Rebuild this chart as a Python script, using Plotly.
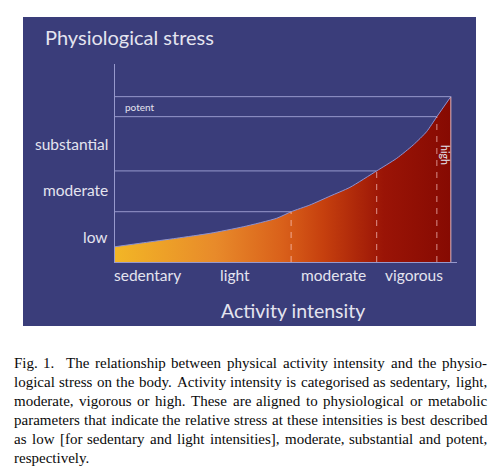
import re
import plotly.graph_objects as go

# ---------------- data ----------------
curve_x = [0, 8.3, 18.0, 27.8, 37.5, 47.3, 51.5, 57.0, 62.9, 68.7, 76.5, 82.4, 87.2, 91.1, 94.1, 98.2]
curve_y = [7.7, 9.7, 12.0, 14.5, 17.8, 22.1, 25.4, 28.8, 33.3, 37.7, 46.0, 52.4, 59.1, 65.8, 73.4, 83.5]
boundary_x = [51.5, 76.5, 94.1, 98.2]
boundary_y = [25.4, 46.0, 73.4, 83.5]
intensity_labels = ["sedentary", "light", "moderate", "vigorous"]
intensity_pos = [9.6, 35, 64, 87.4]
stress_labels = ["low", "moderate", "substantial"]
stress_pos = [12.6, 36.4, 59.6]
caption_lines = [
    "Fig. 1.  The relationship between physical activity intensity and the physio-",
    "logical stress on the body. Activity intensity is categorised as sedentary, light,",
    "moderate, vigorous or high. These are aligned to physiological or metabolic",
    "parameters that indicate the relative stress at these intensities is best described",
    "as low [for sedentary and light intensities], moderate, substantial and potent,",
    "respectively.",
]

# ---------------- layout geometry ----------------
W, H = 500, 476
L, R, T, B = 115, 43, 64, 214
PW = W - L - R
PH = H - T - B


def px_x(px):
    return (px - L) / PW


def px_y(py):
    return (H - B - py) / PH


PANEL = "#3a3d7a"
TXT = "#e4e4ef"
LINE = "#9799cc"
FONT = "Lato"

fig = go.Figure()

# filled curve with horizontal gradient
fig.add_trace(go.Scatter(
    x=curve_x, y=curve_y,
    mode="lines", line=dict(color="#8c92d2", width=1, shape="spline", smoothing=0.6),
    fill="tozeroy",
    fillgradient=dict(type="horizontal", colorscale=[
        [0.0, "#f2b626"], [0.3, "#e88a2a"], [0.5, "#d9601a"],
        [0.62, "#c6400e"], [0.8, "#9a1406"], [1.0, "#860a02"]]),
    hoverinfo="skip", showlegend=False,
))

# right edge of the fill
fig.add_trace(go.Scatter(
    x=[boundary_x[-1], boundary_x[-1]], y=[0, boundary_y[-1]],
    mode="lines", line=dict(color="#e0b8c0", width=1),
    hoverinfo="skip", showlegend=False,
))

# horizontal stress-level lines
hx, hy = [], []
for bx, by in zip(boundary_x, boundary_y):
    hx += [0, bx, None]
    hy += [by, by, None]
fig.add_trace(go.Scatter(x=hx, y=hy, mode="lines",
                         line=dict(color=LINE, width=1),
                         hoverinfo="skip", showlegend=False))

# dashed intensity boundaries
dx, dy = [], []
for bx, by in zip(boundary_x[:3], boundary_y[:3]):
    dx += [bx, bx, None]
    dy += [0, by, None]
fig.add_trace(go.Scatter(x=dx, y=dy, mode="lines",
                         line=dict(color="rgba(255,210,210,0.55)", width=1.2, dash="6px,6px"),
                         hoverinfo="skip", showlegend=False))

ann = []
# title
ann.append(dict(x=px_x(43), y=px_y(37), xref="paper", yref="paper", text="Physiological stress",
                xanchor="left", yanchor="middle", showarrow=False,
                font=dict(family=FONT, size=20, color=TXT)))
# x title
ann.append(dict(x=px_x(293), y=px_y(310), xref="paper", yref="paper", text="Activity intensity",
                xanchor="center", yanchor="middle", showarrow=False,
                font=dict(family=FONT, size=19.5, color=TXT)))
# intensity labels
for lab, pos in zip(intensity_labels, intensity_pos):
    ann.append(dict(x=pos, y=px_y(275), xref="x", yref="paper", text=lab,
                    xanchor="center", yanchor="middle", showarrow=False,
                    font=dict(family=FONT, size=15.5, color=TXT)))
# stress labels
for lab, pos in zip(stress_labels, stress_pos):
    ann.append(dict(x=0, y=pos, xref="x", yref="y", text=lab, xshift=-5,
                    xanchor="right", yanchor="middle", showarrow=False,
                    font=dict(family=FONT, size=15.5, color=TXT)))
# potent label
ann.append(dict(x=2.2, y=(boundary_y[2] + boundary_y[3]) / 2, xref="x", yref="y", text="potent",
                xanchor="left", yanchor="middle", showarrow=False,
                font=dict(family=FONT, size=10, color=TXT)))
# high label
ann.append(dict(x=96.5, y=54, xref="x", yref="y", text="high", textangle=90,
                xanchor="center", yanchor="middle", showarrow=False,
                font=dict(family=FONT, size=10.5, color=TXT)))

# ---------------- caption (justified) ----------------
TW = {' ': 250, '!': 333, ',': 250, '-': 333, '.': 250, '[': 333, ']': 333,
      '0': 500, '1': 500, '2': 500, '3': 500, '4': 500, '5': 500, '6': 500, '7': 500, '8': 500, '9': 500,
      'A': 722, 'B': 667, 'C': 667, 'D': 722, 'E': 611, 'F': 556, 'G': 722, 'H': 722, 'I': 333,
      'J': 389, 'K': 722, 'L': 611, 'M': 889, 'N': 722, 'O': 722, 'P': 556, 'Q': 722, 'R': 667,
      'S': 556, 'T': 611, 'U': 722, 'V': 722, 'W': 944, 'X': 722, 'Y': 722, 'Z': 611,
      'a': 444, 'b': 500, 'c': 444, 'd': 500, 'e': 444, 'f': 333, 'g': 500, 'h': 500, 'i': 278,
      'j': 278, 'k': 500, 'l': 278, 'm': 778, 'n': 500, 'o': 500, 'p': 500, 'q': 500, 'r': 333,
      's': 389, 't': 278, 'u': 500, 'v': 500, 'w': 722, 'x': 500, 'y': 500, 'z': 444}
CS = 15
CAP_L, CAP_R = 14, 487
cap_y = [363, 382, 401, 420, 439, 458]


def tw(s):
    return sum(TW.get(c, 500) for c in s) / 1000 * CS


for i, (line, py) in enumerate(zip(caption_lines, cap_y)):
    tokens = re.split(r"( +)", line)
    words = tokens[0::2]
    gaps = [1 if len(sp) == 1 else 2 for sp in tokens[1::2]]
    wsum = sum(tw(w) for w in words)
    last = i == len(caption_lines) - 1
    if last or not gaps:
        unit = tw(" ")
    else:
        unit = (CAP_R - CAP_L - wsum) / sum(gaps)
    x = CAP_L
    for j, w in enumerate(words):
        ann.append(dict(x=px_x(x), y=px_y(py), xref="paper", yref="paper", text=w,
                        xanchor="left", yanchor="middle", showarrow=False,
                        borderpad=0, borderwidth=0,
                        font=dict(family="Liberation Serif", size=CS, color="#0a0a0a")))
        x += tw(w)
        if j < len(gaps):
            x += unit * gaps[j]

fig.update_layout(
    width=W, height=H, autosize=False,
    margin=dict(l=L, r=R, t=T, b=B, pad=0),
    paper_bgcolor="white", plot_bgcolor="rgba(0,0,0,0)",
    showlegend=False,
    xaxis=dict(range=[0, 100], showgrid=False, zeroline=False, showticklabels=False, ticks="",
               showline=True, linecolor=LINE, linewidth=1, fixedrange=True),
    yaxis=dict(range=[0, 100], showgrid=False, zeroline=False, showticklabels=False, ticks="",
               showline=True, linecolor=LINE, linewidth=1, fixedrange=True),
    shapes=[dict(type="rect", xref="paper", yref="paper",
                 x0=px_x(23), x1=px_x(476), y0=px_y(326), y1=px_y(17),
                 fillcolor=PANEL, line=dict(width=0), layer="below")],
    annotations=ann,
)

fig.write_html("out.html")
